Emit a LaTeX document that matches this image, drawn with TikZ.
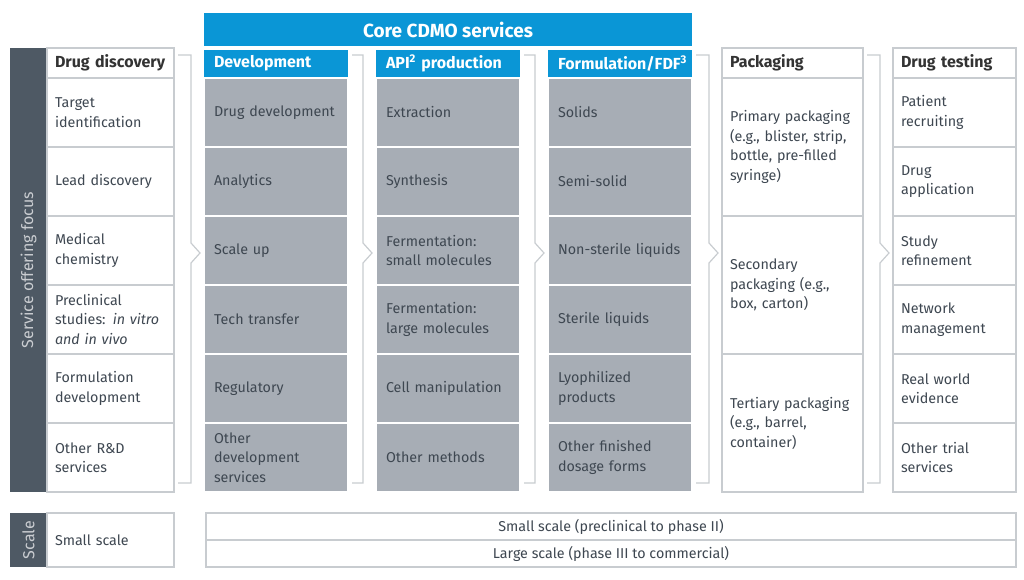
\documentclass[tikz,border=0pt]{standalone}
\usepackage{fontspec}
\setmainfont{Fira Sans}
\usepackage{tikz}
\usetikzlibrary{positioning}
\usetikzlibrary{calc}

\definecolor{cdmoblue}{HTML}{0A96D6}
\definecolor{cdmogrey}{HTML}{A7ADB5}
\definecolor{cdmoslate}{HTML}{4E5964}
\definecolor{cdmotext}{HTML}{3E4751}
\definecolor{cdmoline}{HTML}{C8CCD0}

\begin{document}
\begin{tikzpicture}[x=1pt, y=-1pt,
        every node/.style={font=\fontsize{14.3}{19.5}\selectfont, text=cdmotext, outer sep=0pt},
        wcell/.style={draw=cdmoline, line width=1.2pt, fill=white, anchor=north west, align=left, inner xsep=8pt, minimum height=69pt},
        gcell/.style={draw=white, line width=1.6pt, fill=cdmogrey, anchor=north west, align=left, inner xsep=10pt, text width=124pt, minimum height=69pt},
        whead/.style={wcell, font=\fontsize{16}{18}\selectfont\bfseries, text=black!80, minimum height=30pt},
        bhead/.style={fill=cdmoblue, anchor=north west, align=left, text=white, font=\fontsize{16}{18}\selectfont\bfseries, inner xsep=10pt, text width=124pt, minimum height=27pt},
        sidebar/.style={fill=cdmoslate, rotate=90, text=white!70!cdmoslate, font=\fontsize{16}{18}\selectfont, minimum height=37pt},
        bracket/.style={draw=cdmoline, line width=1.2pt}]
            \useasboundingbox (0,0) rectangle (1024,580);

            \node[fill=cdmoblue, anchor=north west, minimum width=488pt, minimum height=33pt, text=white, font=\fontsize{19}{21}\selectfont\bfseries] (core) at (204,13) {Core CDMO services};
            \node[sidebar, minimum width=444pt] (focus) at (28.5,270) {Service offering focus};

            \node[whead, text width=111pt] (dd-h) at (47,48) {Drug discovery};
            \foreach \t [count=\i] in {{Target\\identification}, Lead discovery, {Medical\\chemistry}, {Preclinical\\studies: \textit{in vitro}\\\textit{and in vivo}}, {Formulation\\development}, {Other R\&D\\services}}
                \node[wcell, text width=111pt] (dd-\i) at (47,9+69*\i) {\t};

            \node[bhead] (dev-h) at (204,50) {Development};
            \foreach \t [count=\i] in {Drug development, Analytics, Scale up, Tech transfer, Regulatory, {Other\\development\\services}}
                \node[gcell] (dev-\i) at (204,9+69*\i) {\t};

            \node[bhead] (api-h) at (376,50) {API\textsuperscript{2} production};
            \foreach \t [count=\i] in {Extraction, Synthesis, {Fermentation:\\small molecules}, {Fermentation:\\large molecules}, Cell manipulation, Other methods}
                \node[gcell] (api-\i) at (376,9+69*\i) {\t};

            \node[bhead] (fdf-h) at (548,50) {Formulation/FDF\textsuperscript{3}};
            \foreach \t [count=\i] in {Solids, Semi-solid, Non-sterile liquids, Sterile liquids, {Lyophilized\\products}, {Other finished\\dosage forms}}
                \node[gcell] (fdf-\i) at (548,9+69*\i) {\t};

            \node[whead, text width=125pt] (pack-h) at (722,48) {Packaging};
            \foreach \t [count=\i] in {{Primary packaging\\(e.g., blister, strip,\\bottle, pre-filled\\syringe)}, {Secondary\\packaging (e.g.,\\box, carton)}, {Tertiary packaging\\(e.g., barrel,\\container)}}
                \node[wcell, text width=125pt, minimum height=138pt] (pack-\i) at (722,-60+138*\i) {\t};

            \node[whead, text width=107pt] (test-h) at (893,48) {Drug testing};
            \foreach \t [count=\i] in {{Patient\\recruiting}, {Drug\\application}, {Study\\refinement}, {Network\\management}, {Real world\\evidence}, {Other trial\\services}}
                \node[wcell, text width=107pt] (test-\i) at (893,9+69*\i) {\t};

            \coordinate (brk-t) at (0,55);
            \coordinate (brk-m) at (0,253);
            \coordinate (brk-b) at (0,483);
            \foreach \a/\b in {dd/dev, dev/api, api/fdf, fdf/pack, pack/test}
                \draw[bracket] ($(\a-h.east |- brk-t)+(4,0)$) -| ($(\b-h.west |- brk-m)+(-13,-10)$) -- ++(9,10) -- ++(-9,10) |- ($(\a-h.east |- brk-b)+(4,0)$);

            \node[sidebar, minimum width=54pt] (scale) at (28.5,540) {Scale};
            \node[wcell, text width=111pt, minimum height=54pt] (small) at (47,513) {Small scale};
            \node[wcell, align=center, minimum width=810pt, minimum height=27pt] (phase-s) at (206,513) {Small scale (preclinical to phase II)};
            \node[wcell, align=center, minimum width=810pt, minimum height=27pt] (phase-l) at (206,540) {Large scale (phase III to commercial)};
\end{tikzpicture}
\end{document}
